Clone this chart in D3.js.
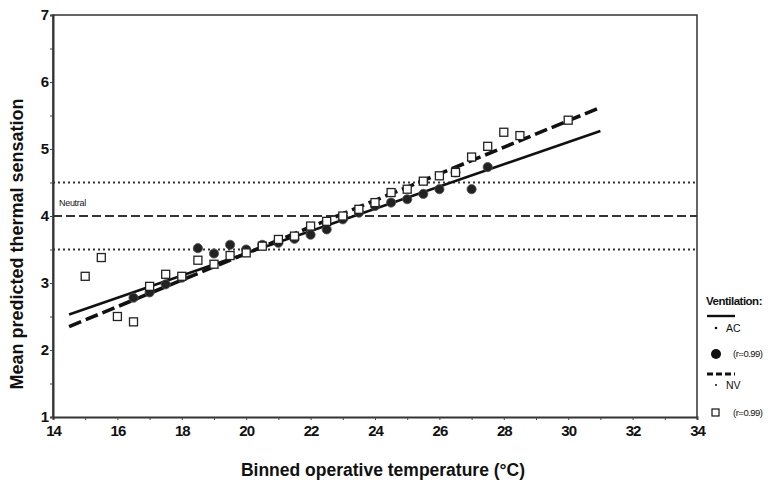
<!DOCTYPE html>
<html>
<head>
<script src="https://cdn.jsdelivr.net/npm/d3@7"></script>
<style>
  body { margin: 0; background: #fff; }
  text { font-family: "Liberation Sans", Arial, sans-serif; fill: #111; }
</style>
</head>
<body>
<div id="vis"></div>
<script>
// binned temperatures and mean sensation
const acTemp = [16.5, 17, 17.5, 18, 18.5, 19, 19.5, 20, 20.5, 21, 21.5, 22, 22.5, 23, 23.5, 24, 24.5, 25, 25.5, 26, 26.5, 27, 27.5];
const acMean = [2.78, 2.86, 2.98, 3.08, 3.52, 3.44, 3.57, 3.5, 3.57, 3.6, 3.66, 3.72, 3.8, 3.95, 4.05, 4.15, 4.2, 4.25, 4.33, 4.4, 4.65, 4.4, 4.73];
const nvTemp = [15, 15.5, 16, 16.5, 17, 17.5, 18, 18.5, 19, 19.5, 20, 20.5, 21, 21.5, 22, 22.5, 23, 23.5, 24, 24.5, 25, 25.5, 26, 26.5, 27, 27.5, 28, 28.5, 30];
const nvMean = [3.1, 3.38, 2.5, 2.42, 2.95, 3.13, 3.1, 3.34, 3.28, 3.41, 3.45, 3.55, 3.65, 3.7, 3.85, 3.92, 4.0, 4.1, 4.2, 4.35, 4.4, 4.52, 4.6, 4.65, 4.88, 5.04, 5.25, 5.2, 5.43];
// regression lines (end points)
const acFit = [[14.5, 2.53], [31, 5.27]];
const nvFit = [[14.5, 2.35], [31, 5.62]];
const refLevels = [4.5, 4, 3.5];
const xTicks = [14, 16, 18, 20, 22, 24, 26, 28, 30, 32, 34];
const yTicks = [1, 2, 3, 4, 5, 6, 7];

const width = 768, height = 484;
const m = { left: 53, right: 71, top: 15, bottom: 67 };

const svg = d3.select('#vis').append('svg')
  .attr('width', width).attr('height', height);

const x = d3.scaleLinear().domain([14, 34]).range([m.left, width - m.right]);
const y = d3.scaleLinear().domain([1, 7]).range([height - m.bottom, m.top]);

// frame
svg.append('path')
  .attr('d', `M${x(14)},${y(1)}V${y(7)}H${x(34)}V${y(1)}`)
  .attr('fill', 'none').attr('stroke', '#333').attr('stroke-width', 1.5);

// axes
const xAxis = svg.append('g')
  .attr('transform', `translate(0,${y(1)})`)
  .call(d3.axisBottom(x).tickValues(d3.range(14, 34.1, 1)).tickSize(3)
    .tickFormat(d => xTicks.includes(d) ? d : ''));
const yAxis = svg.append('g')
  .attr('transform', `translate(${x(14)},0)`)
  .call(d3.axisLeft(y).tickValues(d3.range(1, 7.1, 0.5)).tickSize(3)
    .tickFormat(d => yTicks.includes(d) ? d : ''));
[xAxis, yAxis].forEach(g => {
  g.select('.domain').attr('stroke', '#333').attr('stroke-width', 2);
  g.selectAll('.tick line').attr('stroke', '#444');
  g.selectAll('text').style('font-size', '15px').style('font-weight', 'bold')
    .attr('fill', '#111').style('letter-spacing', '-1px');
});
xAxis.selectAll('text').attr('dy', '0.85em');
yAxis.selectAll('text').attr('x', -5);

// reference lines
svg.selectAll('.ref').data(refLevels).enter().append('line')
  .attr('x1', x(14)).attr('x2', x(34))
  .attr('y1', d => y(d)).attr('y2', d => y(d))
  .attr('stroke', '#333').attr('stroke-width', 2)
  .attr('stroke-dasharray', d => d === 4 ? '9,4' : '2,3');
svg.append('text').attr('x', x(14) + 6).attr('y', y(4) - 10)
  .style('font-size', '9px').style('letter-spacing', '-0.3px').text('Neutral');

// regression lines
const line = d3.line().x(d => x(d[0])).y(d => y(d[1]));
svg.append('path').datum(acFit).attr('d', line)
  .attr('stroke', '#111').attr('stroke-width', 2.6).attr('fill', 'none');
svg.append('path').datum(nvFit).attr('d', line)
  .attr('stroke', '#111').attr('stroke-width', 3.6).attr('fill', 'none')
  .attr('stroke-dasharray', '13,5');

// points
svg.selectAll('.ac').data(acTemp).enter().append('circle')
  .attr('cx', d => x(d)).attr('cy', (d, i) => y(acMean[i]))
  .attr('r', 4.6).attr('fill', '#222').attr('stroke', '#555').attr('stroke-width', 0.8);
svg.selectAll('.nv').data(nvTemp).enter().append('rect')
  .attr('x', d => x(d) - 4).attr('y', (d, i) => y(nvMean[i]) - 4)
  .attr('width', 8).attr('height', 8)
  .attr('fill', '#fff').attr('stroke', '#222').attr('stroke-width', 1.3);

// axis titles
svg.append('text').attr('x', 383).attr('y', 476).attr('text-anchor', 'middle')
  .style('font-size', '17.5px').style('font-weight', 'bold')
  .text('Binned operative temperature (°C)');
svg.append('text').attr('transform', 'translate(23,244) rotate(-90)')
  .attr('text-anchor', 'middle')
  .style('font-size', '18px').style('font-weight', 'bold')
  .text('Mean predicted thermal sensation');

// legend
const lg = svg.append('g').attr('transform', 'translate(706,0)');
lg.append('text').attr('x', 0).attr('y', 305).style('font-size', '11.5px')
  .style('font-weight', 'bold').style('letter-spacing', '-0.5px').text('Ventilation:');
lg.append('line').attr('x1', 1).attr('x2', 29).attr('y1', 316).attr('y2', 316)
  .attr('stroke', '#111').attr('stroke-width', 2.4);
lg.append('circle').attr('cx', 10).attr('cy', 328).attr('r', 1.3).attr('fill', '#111');
lg.append('text').attr('x', 20).attr('y', 332).style('font-size', '10.5px').text('AC');
lg.append('circle').attr('cx', 10).attr('cy', 354).attr('r', 5).attr('fill', '#111');
lg.append('text').attr('x', 27).attr('y', 357).style('font-size', '9.5px')
  .style('letter-spacing', '-0.5px').text('(r=0.99)');
lg.append('line').attr('x1', 1).attr('x2', 29).attr('y1', 374).attr('y2', 374)
  .attr('stroke', '#111').attr('stroke-width', 3).attr('stroke-dasharray', '6,3');
lg.append('circle').attr('cx', 10).attr('cy', 385).attr('r', 1).attr('fill', '#111');
lg.append('text').attr('x', 20).attr('y', 389).style('font-size', '10.5px').text('NV');
lg.append('rect').attr('x', 6).attr('y', 409).attr('width', 7).attr('height', 7)
  .attr('fill', '#fff').attr('stroke', '#111').attr('stroke-width', 1.2);
lg.append('text').attr('x', 27).attr('y', 416).style('font-size', '9.5px')
  .style('letter-spacing', '-0.5px').text('(r=0.99)');
</script>
</body>
</html>
